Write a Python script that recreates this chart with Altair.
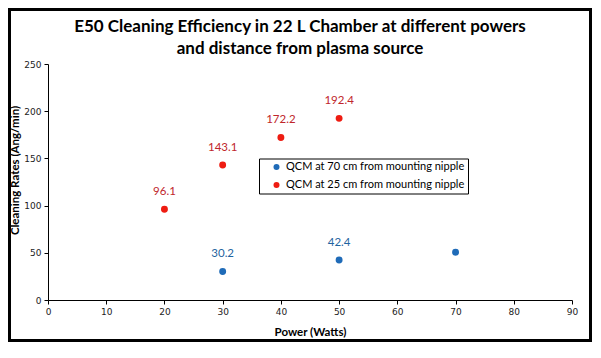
import altair as alt
import pandas as pd

# ---- data ----
series_70 = "QCM at 70 cm from mounting nipple"
series_25 = "QCM at 25 cm from mounting nipple"

power_70 = [30, 50, 70]
rate_70 = [30.2, 42.4, 50.5]
label_70 = ["30.2", "42.4", ""]

power_25 = [20, 30, 40, 50]
rate_25 = [96.1, 143.1, 172.2, 192.4]
label_25 = ["96.1", "143.1", "172.2", "192.4"]

x_ticks = [0, 10, 20, 30, 40, 50, 60, 70, 80, 90]
y_ticks = [0, 50, 100, 150, 200, 250]

title_lines = ["E50 Cleaning Efficiency in 22 L Chamber at different powers",
               "and distance from plasma source"]

df = pd.DataFrame({
    "power": power_70 + power_25,
    "rate": rate_70 + rate_25,
    "label": label_70 + label_25,
    "series": [series_70] * len(power_70) + [series_25] * len(power_25),
})

W, H = 524, 236
PL, PT, PR, PB = 40, 56, 20, 42

series_order = [series_70, series_25]
point_colors = ["#1F6BB8", "#EE1C12"]
text_colors = ["#1F64A0", "#C0262B"]

x_enc = alt.X("power:Q", title="Power (Watts)",
              scale=alt.Scale(domain=[0, 90], nice=False, zero=True),
              axis=alt.Axis(values=x_ticks, grid=False, tickSize=4, labelPadding=3,
                            titlePadding=10, labelFlush=False))
y_enc = alt.Y("rate:Q", title="Cleaning Rates (Ang/min)",
              scale=alt.Scale(domain=[0, 250], nice=False),
              axis=alt.Axis(values=y_ticks, grid=False, tickSize=4, labelPadding=3,
                            titleX=-33, titleY=106, titleAlign="center",
                            titleBaseline="middle", titleAngle=-90))

points = alt.Chart(df).mark_circle(size=48, opacity=1).encode(
    x=x_enc,
    y=y_enc,
    color=alt.Color("series:N",
                    scale=alt.Scale(domain=series_order, range=point_colors),
                    legend=alt.Legend(title=None, orient="none", legendX=211, legendY=94.5,
                                      strokeColor="black", fillColor="white",
                                      padding=3, symbolOffset=9, symbolSize=36,
                                      symbolType="circle", labelFont="Lato",
                                      labelFontSize=11, labelColor="black",
                                      labelLimit=400, rowPadding=6)),
)

labels = alt.Chart(df).mark_text(dy=-17, font="Lato", fontSize=11.5).encode(
    x="power:Q",
    y="rate:Q",
    text="label:N",
    color=alt.Color("series:N",
                    scale=alt.Scale(domain=series_order, range=text_colors),
                    legend=None),
)

frame = alt.Chart(pd.DataFrame({"a": [0]})).mark_rect(
    fillOpacity=0, stroke="black", strokeWidth=3
).encode(
    x=alt.value(-PL + 1.5), x2=alt.value(W + PR - 1.5),
    y=alt.value(-PT + 1.5), y2=alt.value(H + PB - 1.5),
)

chart = alt.layer(frame, points, labels).resolve_scale(color="independent").properties(
    width=W, height=H,
    autosize=alt.AutoSizeParams(type="none"),
    padding={"left": PL, "top": PT, "right": PR, "bottom": PB},
    background="white",
    title=alt.TitleParams(title_lines, anchor="middle", frame="group", dx=-10, dy=50,
                          font="Lato", fontSize=17, fontWeight="bold",
                          color="black", lineHeight=22, offset=0),
).configure_view(stroke=None).configure_axis(
    domainColor="black", tickColor="black", labelFont="DejaVu Sans", labelFontSize=9,
    labelColor="#222222", titleFont="Lato", titleFontSize=11.5, titleFontWeight="bold",
    titleColor="black",
)

chart.save("out.html", embed_options={"renderer": "svg", "actions": False})
